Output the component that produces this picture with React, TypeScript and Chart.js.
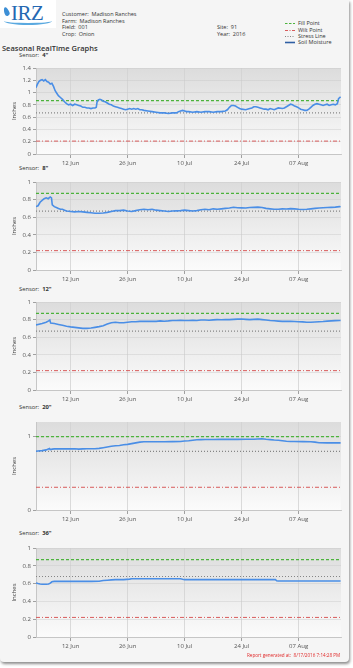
import React, { useEffect, useRef } from "react";
import { Chart, registerables } from "chart.js";

Chart.register(...registerables);

// ---- axis definitions (days counted from 1 Jun 2016 = 0) ----
const X_MIN = 2.5;
const X_MAX = 77.4;
const tickDays = [11, 25, 39, 53, 67];
const tickLabels = ["12 Jun", "26 Jun", "10 Jul", "24 Jul", "07 Aug"];

// ---- Sensor 4" ----
const days4 = [2.5, 2.8, 3.2, 3.6, 4.0, 4.4, 4.8, 5.2, 5.6, 6.0, 6.4, 6.8, 7.2, 7.6, 8.0, 8.5, 9.0, 9.5, 10.0, 10.5, 11.0, 11.5, 12.0, 12.5, 13.0, 13.5, 14.0, 14.5, 15.0, 15.5, 16.0, 16.5, 17.0, 17.3, 17.5, 17.8, 18.2, 18.6, 19.0, 19.5, 20.0, 20.5, 21.0, 21.5, 22.0, 22.5, 23.0, 23.5, 24.0, 24.5, 25.0, 25.5, 26.0, 26.5, 27.0, 27.5, 28.0, 28.5, 29.0, 30.0, 31.0, 32.0, 33.0, 34.0, 35.0, 36.0, 37.0, 37.5, 38.0, 38.5, 39.0, 39.5, 40.0, 41, 42, 43, 44, 45, 46, 47, 48, 49, 49.5, 50, 50.5, 51, 51.5, 52, 52.5, 53, 54, 55, 55.5, 56, 56.5, 57, 57.5, 58, 58.5, 59, 59.5, 60, 61, 62, 63, 63.5, 64, 64.5, 65, 65.5, 66, 66.5, 67, 67.5, 68, 68.5, 69, 69.5, 70, 70.5, 71, 71.5, 72, 72.5, 73, 73.5, 74, 74.5, 75, 75.5, 76, 76.5, 76.8, 77.3];
const moisture4 = [1.08, 1.13, 1.18, 1.2, 1.21, 1.19, 1.21, 1.18, 1.17, 1.14, 1.15, 1.1, 1.03, 0.99, 0.95, 0.92, 0.89, 0.85, 0.82, 0.8, 0.81, 0.79, 0.81, 0.8, 0.79, 0.78, 0.76, 0.76, 0.75, 0.75, 0.74, 0.75, 0.75, 0.76, 0.85, 0.88, 0.89, 0.88, 0.86, 0.85, 0.83, 0.81, 0.8, 0.78, 0.77, 0.76, 0.75, 0.74, 0.73, 0.72, 0.73, 0.74, 0.73, 0.74, 0.73, 0.74, 0.72, 0.72, 0.71, 0.7, 0.69, 0.68, 0.67, 0.67, 0.66, 0.67, 0.67, 0.69, 0.7, 0.71, 0.7, 0.69, 0.69, 0.68, 0.69, 0.68, 0.69, 0.69, 0.68, 0.69, 0.69, 0.7, 0.72, 0.76, 0.79, 0.79, 0.78, 0.76, 0.74, 0.73, 0.72, 0.74, 0.75, 0.77, 0.77, 0.76, 0.75, 0.74, 0.73, 0.73, 0.72, 0.74, 0.72, 0.75, 0.74, 0.75, 0.77, 0.79, 0.81, 0.8, 0.78, 0.77, 0.75, 0.73, 0.72, 0.71, 0.71, 0.73, 0.76, 0.79, 0.81, 0.82, 0.81, 0.8, 0.79, 0.8, 0.81, 0.79, 0.8, 0.81, 0.8, 0.82, 0.9, 0.93];

// ---- Sensor 8" ----
const days8 = [2.5, 3.0, 3.5, 4.0, 4.5, 5.0, 5.5, 6.0, 6.3, 6.5, 7.0, 7.5, 8, 8.5, 9, 9.5, 10, 11, 12, 13, 14, 15, 16, 17, 18, 19, 20, 21, 22, 23, 24, 25, 26, 27, 28, 29, 30, 31, 32, 33, 34, 35, 36, 37, 38, 39, 40, 41, 42, 43, 44, 45, 46, 47, 48, 49, 50, 51, 52, 53, 54, 55, 56, 57, 58, 59, 60, 61, 62, 63, 64, 65, 66, 67, 68, 69, 70, 71, 72, 73, 74, 75, 76, 77, 77.3];
const moisture8 = [0.72, 0.73, 0.77, 0.79, 0.81, 0.82, 0.81, 0.83, 0.82, 0.74, 0.72, 0.71, 0.7, 0.69, 0.69, 0.68, 0.67, 0.665, 0.66, 0.665, 0.66, 0.655, 0.65, 0.645, 0.645, 0.648, 0.655, 0.665, 0.675, 0.675, 0.68, 0.67, 0.665, 0.675, 0.685, 0.69, 0.685, 0.69, 0.68, 0.675, 0.67, 0.665, 0.67, 0.672, 0.675, 0.68, 0.675, 0.67, 0.675, 0.685, 0.69, 0.685, 0.695, 0.69, 0.695, 0.7, 0.705, 0.713, 0.708, 0.706, 0.705, 0.71, 0.712, 0.715, 0.71, 0.7, 0.695, 0.69, 0.69, 0.695, 0.694, 0.697, 0.695, 0.69, 0.687, 0.69, 0.695, 0.7, 0.705, 0.708, 0.71, 0.712, 0.715, 0.72, 0.718];

// ---- Sensor 12" ----
const days12 = [2.5, 3, 4, 5, 5.6, 5.9, 6.1, 7, 8, 9, 10, 11, 12, 13, 14, 15, 16, 17, 18, 19, 20, 21, 22, 23, 24, 25, 26, 27, 28, 29, 30, 31, 32, 33, 34, 35, 36, 37, 38, 39, 40, 41, 42, 43, 44, 45, 46, 47, 48, 49, 50, 51, 52, 53, 54, 55, 56, 57, 58, 59, 60, 61, 62, 63, 64, 65, 66, 67, 68, 69, 70, 71, 72, 73, 74, 75, 76, 77, 77.3];
const moisture12 = [0.74, 0.745, 0.755, 0.77, 0.785, 0.795, 0.76, 0.755, 0.745, 0.735, 0.725, 0.717, 0.712, 0.706, 0.7, 0.7, 0.705, 0.712, 0.72, 0.73, 0.75, 0.765, 0.77, 0.765, 0.765, 0.77, 0.775, 0.775, 0.78, 0.78, 0.78, 0.782, 0.78, 0.785, 0.782, 0.785, 0.79, 0.79, 0.792, 0.79, 0.79, 0.792, 0.79, 0.795, 0.795, 0.793, 0.797, 0.8, 0.798, 0.8, 0.8, 0.803, 0.805, 0.806, 0.803, 0.8, 0.802, 0.805, 0.8, 0.795, 0.79, 0.787, 0.783, 0.78, 0.782, 0.78, 0.778, 0.776, 0.774, 0.77, 0.77, 0.772, 0.775, 0.778, 0.783, 0.785, 0.788, 0.79, 0.79];

// ---- Sensor 20" ----
const days20 = [2.5, 3, 4, 5, 5.8, 6.0, 6.5, 7, 8, 9, 10, 11, 12, 13, 14, 15, 16, 17, 18, 19, 20, 21, 22, 23, 24, 25, 26, 27, 28, 29, 30, 32, 34, 36, 38, 39, 40, 41, 42, 43, 44, 46, 48, 50, 52, 54, 56, 57, 58, 59, 60, 61, 62, 63, 64, 65, 66, 68, 70, 71, 72, 74, 76, 77.3];
const moisture20 = [0.8, 0.805, 0.81, 0.82, 0.84, 0.825, 0.83, 0.833, 0.835, 0.833, 0.835, 0.833, 0.835, 0.83, 0.833, 0.835, 0.835, 0.835, 0.84, 0.85, 0.86, 0.87, 0.877, 0.88, 0.89, 0.895, 0.905, 0.915, 0.925, 0.93, 0.93, 0.93, 0.93, 0.932, 0.935, 0.94, 0.945, 0.952, 0.958, 0.96, 0.962, 0.962, 0.963, 0.963, 0.963, 0.965, 0.965, 0.968, 0.972, 0.965, 0.96, 0.955, 0.952, 0.945, 0.938, 0.935, 0.935, 0.933, 0.93, 0.925, 0.918, 0.915, 0.915, 0.915];

// ---- Sensor 36" ----
const days36 = [2.5, 3, 3.5, 4, 5, 5.6, 6.0, 6.4, 7, 8, 10, 12, 14, 16, 18, 19, 20, 21, 22, 24, 25.5, 26, 28, 30, 32, 34, 36, 38, 38.5, 39, 40, 44, 48, 52, 56, 60, 61.3, 61.6, 62, 66, 70, 74, 77.3];
const moisture36 = [0.607, 0.6, 0.595, 0.593, 0.592, 0.595, 0.605, 0.62, 0.625, 0.625, 0.625, 0.625, 0.625, 0.625, 0.627, 0.635, 0.638, 0.642, 0.645, 0.645, 0.65, 0.655, 0.655, 0.655, 0.655, 0.655, 0.655, 0.655, 0.648, 0.645, 0.645, 0.645, 0.645, 0.645, 0.645, 0.645, 0.645, 0.632, 0.63, 0.63, 0.63, 0.63, 0.63];

// ---- thresholds per sensor (4", 8", 12", 20", 36") ----
const sensorNames = ['4"', '8"', '12"', '20"', '36"'];
const fillPoints = [0.87, 0.87, 0.87, 1.0, 0.87];
const stressLines = [0.67, 0.67, 0.67, 0.8, 0.68];
const wiltPoints = [0.21, 0.22, 0.22, 0.31, 0.22];
const yMaxes = [1.4, 1, 1, 1.2, 1];
const yTickSets = [
  [0, 0.2, 0.4, 0.6, 0.8, 1, 1.2, 1.4],
  [0, 0.2, 0.4, 0.6, 0.8, 1],
  [0, 0.2, 0.4, 0.6, 0.8, 1],
  [0, 1],
  [0, 0.2, 0.4, 0.6, 0.8, 1],
];
const allDays = [days4, days8, days12, days20, days36];
const allMoisture = [moisture4, moisture8, moisture12, moisture20, moisture36];

const FONT = "'Open Sans', 'DejaVu Sans', sans-serif";
const FILL_COLOR = "#4cb33c";
const WILT_COLOR = "#d85c5c";
const STRESS_COLOR = "#858585";
const LINE_COLOR = "#4a8ee6";

const bgPlugin = {
  id: "plotBg",
  beforeDraw(chart: any) {
    const { ctx, chartArea } = chart;
    if (!chartArea) return;
    const g = ctx.createLinearGradient(0, chartArea.top, 0, chartArea.bottom);
    g.addColorStop(0, "#dcdcdc");
    g.addColorStop(1, "#fbfbfb");
    ctx.save();
    ctx.fillStyle = g;
    ctx.fillRect(chartArea.left, chartArea.top, chartArea.right - chartArea.left, chartArea.bottom - chartArea.top);
    ctx.restore();
  },
};

// plot top / bottom (page px) for each chart
const plotTops = [68, 182, 302, 422, 548];
const plotBottoms = [154, 270, 390, 510, 637];
const labelTops = [52, 165, 286, 404, 530];

function SensorChart({ idx }: { idx: number }) {
  const ref = useRef<HTMLCanvasElement>(null);
  const padTop = 6;
  const xAxisH = 18;
  const top = plotTops[idx] - padTop;
  const height = plotBottoms[idx] - plotTops[idx] + padTop + xAxisH;

  useEffect(() => {
    if (!ref.current) return;
    const xs = allDays[idx];
    const ys = allMoisture[idx];
    const flat = (v: number) => [
      { x: X_MIN, y: v },
      { x: X_MAX, y: v },
    ];
    const chart = new Chart(ref.current, {
      type: "line",
      data: {
        datasets: [
          {
            label: "Soil Moisture",
            data: xs.map((x, i) => ({ x, y: ys[i] })),
            borderColor: LINE_COLOR,
            borderWidth: 1.6,
            pointRadius: 0,
            tension: 0,
            order: 0,
          },
          {
            label: "Fill Point",
            data: flat(fillPoints[idx]),
            borderColor: FILL_COLOR,
            borderWidth: 1.2,
            borderDash: [3, 2],
            pointRadius: 0,
            order: 1,
          },
          {
            label: "Stress Line",
            data: flat(stressLines[idx]),
            borderColor: STRESS_COLOR,
            borderWidth: 1.2,
            borderDash: [1, 2],
            pointRadius: 0,
            order: 1,
          },
          {
            label: "Wilt Point",
            data: flat(wiltPoints[idx]),
            borderColor: WILT_COLOR,
            borderWidth: 1,
            borderDash: [4, 2, 1, 2],
            pointRadius: 0,
            order: 1,
          },
        ],
      },
      options: {
        animation: false,
        responsive: false,
        devicePixelRatio: 1,
        layout: { padding: { top: padTop, right: 12, left: 0, bottom: 0 } },
        plugins: { legend: { display: false }, tooltip: { enabled: false } },
        scales: {
          x: {
            type: "linear",
            min: X_MIN,
            max: X_MAX,
            afterBuildTicks: (s: any) => {
              s.ticks = tickDays.map((v) => ({ value: v }));
            },
            afterFit: (s: any) => {
              s.height = xAxisH;
            },
            ticks: {
              autoSkip: false,
              maxRotation: 0,
              padding: 2,
              color: "#555",
              font: { family: FONT, size: 6 },
              callback: (_v: any, i: number) => tickLabels[i],
            },
            grid: { color: "#d2d2d2", lineWidth: 0.8, tickLength: 4, tickColor: "#8a8a8a" },
            border: { color: "#c6c6c6" },
          },
          y: {
            min: 0,
            max: yMaxes[idx],
            afterBuildTicks: (s: any) => {
              s.ticks = yTickSets[idx].map((v) => ({ value: v }));
            },
            afterFit: (s: any) => {
              s.width = 36;
            },
            ticks: {
              padding: 2,
              color: "#555",
              font: { family: FONT, size: 6 },
              callback: (v: any) => String(Math.round(Number(v) * 10) / 10),
            },
            grid: { color: "rgba(200,200,200,0.55)", lineWidth: 0.8, tickLength: 3, tickColor: "#8a8a8a" },
            border: { color: "#c6c6c6" },
            title: {
              display: true,
              text: "Inches",
              color: "#444",
              font: { family: FONT, size: 6 },
              padding: { top: 11, bottom: 0 },
            },
          },
        },
      },
      plugins: [bgPlugin],
    } as any);
    return () => chart.destroy();
  }, [idx]);

  return (
    <canvas
      ref={ref}
      width={353}
      height={height}
      style={{ position: "absolute", left: 0, top, width: 353, height }}
    />
  );
}

const txt: React.CSSProperties = {
  position: "absolute",
  fontFamily: FONT,
  fontSize: 5.5,
  color: "#333",
  whiteSpace: "nowrap",
  lineHeight: "7px",
};

function LegendSwatch({ kind }: { kind: string }) {
  const props: any = { x1: 0, y1: 3.5, x2: 10, y2: 3.5 };
  if (kind === "fill") return <svg width={10} height={7}><line {...props} stroke={FILL_COLOR} strokeWidth={1.2} strokeDasharray="2.5 1.5" /></svg>;
  if (kind === "wilt") return <svg width={10} height={7}><line {...props} stroke={WILT_COLOR} strokeWidth={1.1} strokeDasharray="3 1.5 1 1.5" /></svg>;
  if (kind === "stress") return <svg width={10} height={7}><line {...props} stroke={STRESS_COLOR} strokeWidth={1.1} strokeDasharray="1 1.5" /></svg>;
  return <svg width={10} height={7}><line {...props} stroke="#2f5fa3" strokeWidth={1.6} /></svg>;
}

export default function App() {
  const legend = [
    { kind: "fill", text: "Fill Point", y: 20 },
    { kind: "wilt", text: "Wilt Point", y: 26.5 },
    { kind: "stress", text: "Stress Line", y: 33 },
    { kind: "soil", text: "Soil Moisture", y: 39 },
  ];
  return (
    <div style={{ position: "absolute", left: 0, top: 0, width: 353, height: 668, background: "#ffffff", overflow: "hidden" }}>
      <div
        style={{
          position: "absolute",
          left: 0,
          top: 0,
          width: 349,
          height: 662,
          background: "#f5f5f5",
          boxShadow: "1px 2px 3px rgba(0,0,0,0.45)",
          borderRadius: "0 0 4px 4px",
        }}
      />
      {/* logo */}
      <div style={{ position: "absolute", left: 0, top: 0, width: 56, height: 28, background: "#ffffff" }} />
      <div
        style={{
          position: "absolute",
          left: 4,
          top: 7,
          width: 5,
          height: 9,
          background: "#3d8fd6",
          borderRadius: "50% 50% 50% 50% / 70% 70% 30% 30%",
          transform: "rotate(-20deg)",
        }}
      />
      <div
        style={{
          position: "absolute",
          left: 11,
          top: 1,
          fontFamily: "'Liberation Serif', serif",
          fontSize: 21,
          color: "#2568b2",
          lineHeight: "24px",
          letterSpacing: -0.5,
        }}
      >
        IRZ
      </div>
      <div
        style={{
          position: "absolute",
          left: 4,
          top: 17,
          width: 48,
          height: 6,
          borderBottom: "2px solid #5aa9e0",
          borderRadius: "0 0 50% 50%",
        }}
      />

      {/* header info */}
      <div style={{ ...txt, left: 62, top: 10.5 }}>Customer:&nbsp;&nbsp;Madison Ranches</div>
      <div style={{ ...txt, left: 62, top: 17.5 }}>Farm:&nbsp;&nbsp;Madison Ranches</div>
      <div style={{ ...txt, left: 62, top: 24 }}>Field:&nbsp;&nbsp;001</div>
      <div style={{ ...txt, left: 62, top: 30.5 }}>Crop:&nbsp;&nbsp;Onion</div>
      <div style={{ ...txt, left: 217, top: 24 }}>Site:&nbsp;&nbsp;91</div>
      <div style={{ ...txt, left: 217, top: 30.5 }}>Year:&nbsp;&nbsp;2016</div>

      {legend.map((l) => (
        <div key={l.text} style={{ ...txt, left: 285, top: l.y, display: "flex", alignItems: "center", gap: 3 }}>
          <LegendSwatch kind={l.kind} />
          <span>{l.text}</span>
        </div>
      ))}

      <div
        style={{
          ...txt,
          left: 2,
          top: 43.5,
          fontSize: 7.5,
          fontWeight: 600,
          color: "#333",
          lineHeight: "9px",
        }}
      >
        Seasonal RealTime Graphs
      </div>

      {sensorNames.map((s, i) => (
        <div key={s} style={{ ...txt, left: 19, top: labelTops[i], fontSize: 5.8 }}>
          Sensor:&nbsp;&nbsp;<b>{s}</b>
        </div>
      ))}

      {sensorNames.map((s, i) => (
        <SensorChart key={s} idx={i} />
      ))}

      <div style={{ ...txt, left: 247, top: 651.5, color: "#e02828", fontSize: 4.6 }}>
        Report generated at:&nbsp;&nbsp;8/17/2016 7:14:28 PM
      </div>
    </div>
  );
}
